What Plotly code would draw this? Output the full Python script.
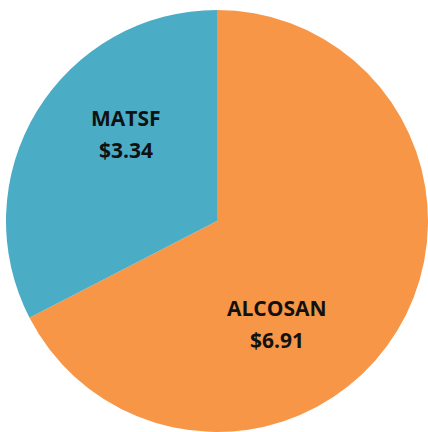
import plotly.graph_objects as go

labels = ["ALCOSAN", "MATSF"]
values = [6.91, 3.34]
colors = ["#F79646", "#4BACC6"]

W, H = 428, 432
# label anchor positions (pixels from top-left) for name line; value line sits below
label_pos = {"ALCOSAN": (277, 308), "MATSF": (126, 118)}
line_gap = 32

fig = go.Figure(go.Pie(
    labels=labels,
    values=values,
    marker=dict(colors=colors, line=dict(width=0)),
    sort=False,
    direction="clockwise",
    rotation=0,
    textinfo="none",
    hoverinfo="label+value",
    showlegend=False,
    domain=dict(x=[6 / W, 1], y=[0, 1 - 10 / H]),
))

annotations = []
font = dict(family="Open Sans", size=21, color="#111111")
for lab, val in zip(labels, values):
    px, py = label_pos[lab]
    for i, txt in enumerate([f"<b>{lab}</b>", f"<b>${val:.2f}</b>"]):
        annotations.append(dict(
            x=px / W, y=1 - (py + i * line_gap) / H,
            xref="paper", yref="paper",
            xanchor="center", yanchor="middle",
            text=txt, showarrow=False, font=font,
        ))

fig.update_layout(
    width=W, height=H,
    margin=dict(l=0, r=0, t=0, b=0),
    paper_bgcolor="white",
    plot_bgcolor="white",
    annotations=annotations,
)
fig.write_html("out.html")
